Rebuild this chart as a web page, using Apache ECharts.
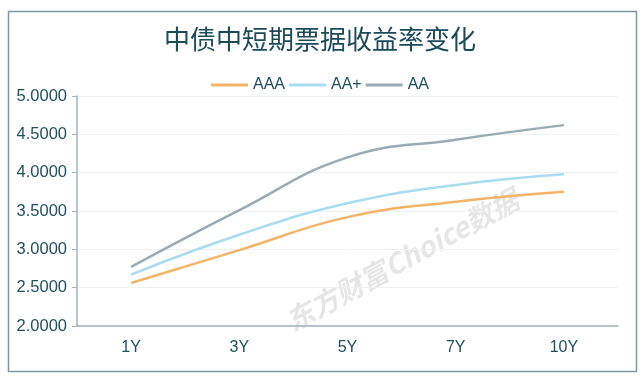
<!DOCTYPE html>
<html><head><meta charset="utf-8">
<script src="https://cdn.jsdelivr.net/npm/echarts@6/dist/echarts.min.js"></script>
<style>html,body{margin:0;padding:0;background:#fff}#c{width:640px;height:378px}</style>
</head><body><div id="c"></div>
<script>
var categories = ['1Y','3Y','5Y','7Y','10Y'];
var seriesNames = ['AAA','AA+','AA'];
var aaa = [2.56, 2.99, 3.42, 3.62, 3.75];
var aaPlus = [2.67, 3.19, 3.60, 3.84, 3.98];
var aa = [2.77, 3.51, 4.20, 4.43, 4.62];
var yTicks = [2.0, 2.5, 3.0, 3.5, 4.0, 4.5, 5.0];
var colors = ['#f2b467','#a9dcef','#9aabb3'];

var chart = echarts.init(document.getElementById('c'));
var cjk = '"Noto Sans CJK SC","Noto Sans",sans-serif';
var lat = '"Liberation Sans","DejaVu Sans",sans-serif';
var txt = '#1f4f5e';
function mk(name, data, i){
  return {name:name, type:'line', smooth:0.45, data:data, symbol:'none',
    lineStyle:{color:colors[i], width:2.5}, itemStyle:{color:colors[i]}};
}
chart.setOption({
  animation:false,
  title:{text:'中债中短期票据收益率变化', left:'center', top:21,
    textStyle:{fontFamily:cjk, fontSize:26, fontWeight:'normal', color:'#1c4a59'}},
  legend:{left:'center', top:72, icon:'rect', itemWidth:37, itemHeight:3, itemGap:4,
    data:seriesNames, textStyle:{fontFamily:lat, fontSize:16, color:txt, padding:[0,0,0,0]}},
  grid:{left:77, right:22, top:96, bottom:52},
  xAxis:{type:'category', data:categories, boundaryGap:true,
    axisLine:{lineStyle:{color:'#9fb4bc', width:1.5}},
    axisTick:{lineStyle:{color:'#9fb4bc'}, length:6},
    axisLabel:{fontFamily:lat, fontSize:16, color:txt, margin:14}},
  yAxis:{type:'value', min:yTicks[0], max:yTicks[yTicks.length-1], interval:0.5,
    axisLine:{show:true, lineStyle:{color:'#9fb4bc', width:1.5}},
    axisTick:{show:true, lineStyle:{color:'#9fb4bc'}, length:5},
    splitLine:{lineStyle:{color:'#eef1f2'}},
    axisLabel:{fontFamily:lat, fontSize:16.5, color:txt, margin:10,
      formatter:function(v){return v.toFixed(4);}}},
  graphic:[
    {type:'rect', left:6, top:9, shape:{width:628, height:360},
      style:{fill:'none', stroke:'#7d99a2', lineWidth:1.5}, z:-1},
    {type:'text', x:402, y:260, rotation:Math.PI*0.16,
      style:{text:'东方财富Choice数据', font:'italic bold 28px '+cjk,
        fill:'rgba(205,205,205,0.5)', align:'center', verticalAlign:'middle'}, z:0}
  ],
  series:[mk('AAA',aaa,0), mk('AA+',aaPlus,1), mk('AA',aa,2)]
});
</script></body></html>
